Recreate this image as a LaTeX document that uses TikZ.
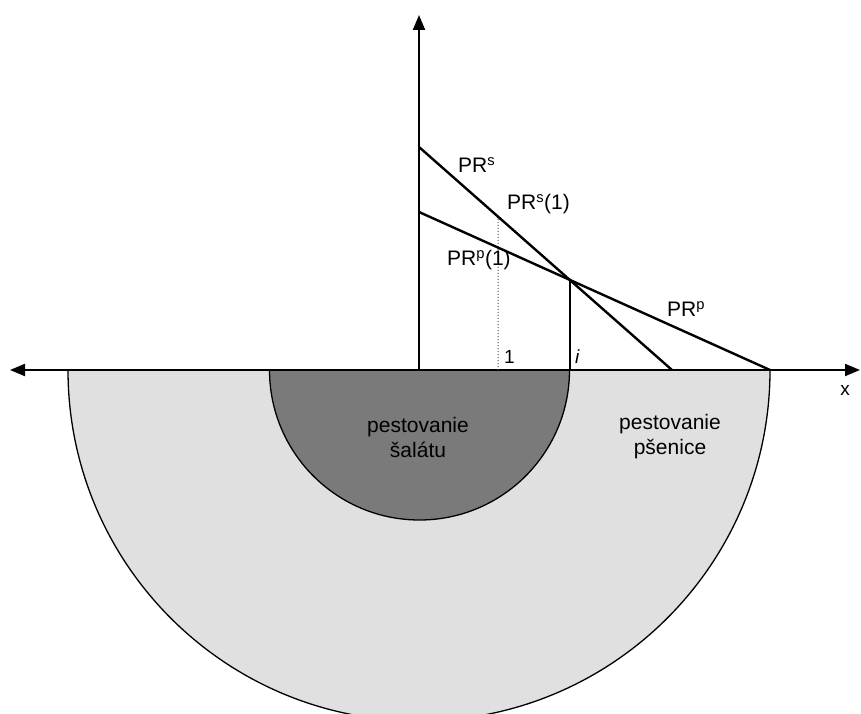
\documentclass[tikz,border=0pt]{standalone}
\usepackage{fontspec}
\setmainfont{Liberation Sans}
\usetikzlibrary{arrows.meta,calc}
\definecolor{outerfill}{gray}{0.88}
\definecolor{innerfill}{gray}{0.48}
\begin{document}
\begin{tikzpicture}[x=1pt,y=1pt,
  >={Triangle[length=15pt,width=12pt]},
  axisline/.style={line width=2pt},
  prline/.style={line width=2.4pt},
  thinline/.style={line width=1.2pt},
  dotline/.style={line width=1pt,dotted,black!70},
  rim/.style={draw=black,line width=1.3pt},
  lbl/.style={font=\fontsize{21}{25}\selectfont,inner sep=0pt,anchor=base west},
  small/.style={font=\fontsize{19}{23}\selectfont,inner sep=0pt,anchor=base west},
  region/.style={font=\fontsize{21}{25}\selectfont,inner sep=0pt,align=center}]
\useasboundingbox (0,0) rectangle (861,713);
% key points (y measured upward from the bottom edge)
\coordinate (O) at (419,343);
\coordinate (Lft) at (10,343);
\coordinate (Rgt) at (860,343);
\coordinate (Top) at (419,698);
\coordinate (Ss) at (419,566);
\coordinate (Se) at (672,343);
\coordinate (Ps) at (419,501);
\coordinate (Pe) at (770,343);
\coordinate (I) at (570,433);
\coordinate (Ib) at (570,343);
\coordinate (Db) at (498,343);
\coordinate (Dt) at ($(Ss)!0.3123!(Se)$);
% farming regions
\begin{scope}
  \clip (0,0) rectangle (861,713);
  \filldraw[fill=outerfill,rim] (68,343) arc[start angle=180,end angle=360,radius=351] -- cycle;
\end{scope}
\filldraw[fill=innerfill,rim] (269.5,343) arc[start angle=180,end angle=360,radius=150] -- cycle;
% axes
\draw[axisline,<->] (Lft) -- (Rgt);
\draw[axisline,->] (O) -- (Top);
% lines
\draw[dotline] (Db) -- (Dt);
\draw[thinline] (Ib) -- (I);
\draw[prline] (Ss) -- (Se);
\draw[prline] (Ps) -- (Pe);
% labels
\node[lbl] (lPRs) at (458,540) {PR\textsuperscript{s}};
\node[lbl] (lPRs1) at (507,503) {PR\textsuperscript{s}(1)};
\node[lbl] (lPRp1) at (447,447) {PR\textsuperscript{p}(1)};
\node[lbl] (lPRp) at (667,396) {PR\textsuperscript{p}};
\node[small] (l1) at (504,350) {1};
\node[small] (li) at (575,350) {\itshape i};
\node[small,anchor=center] (lx) at (845,323) {x};
\node[region] (sal) at (418,276) {pestovanie\\šalátu};
\node[region] (pse) at (670,276) {pestovanie\\pšenice};
\end{tikzpicture}
\end{document}
